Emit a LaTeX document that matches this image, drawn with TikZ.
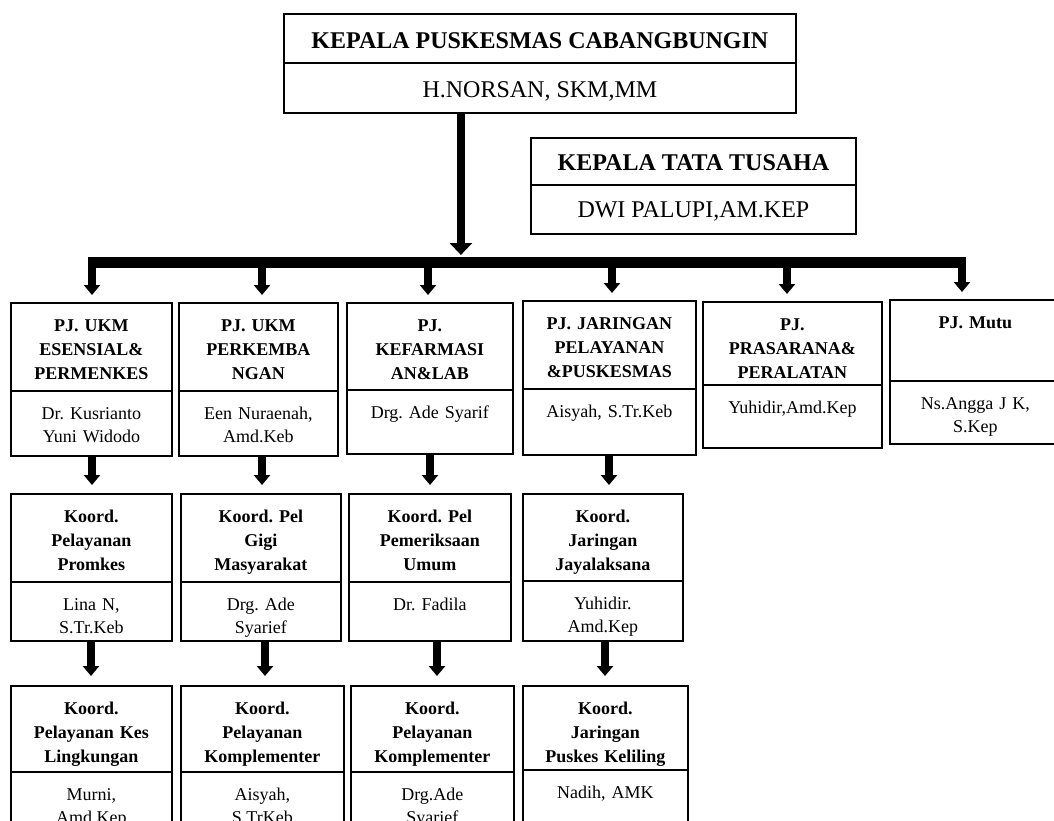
\documentclass[tikz,border=0pt]{standalone}
\usepackage{fontspec}
\setmainfont{Liberation Serif}
\usetikzlibrary{arrows.meta}
\frenchspacing
\tikzset{
  cellbox/.style={draw, rectangle, line width=1.8pt, inner sep=0pt},
  headtext/.style={inner sep=0pt, anchor=base, align=center, font=\frenchspacing\bfseries\fontsize{18}{24}\selectfont},
  nametext/.style={inner sep=0pt, anchor=base, align=center, font=\frenchspacing\fontsize{18}{23.5}\selectfont},
  bigtitle/.style={inner sep=0pt, anchor=base, font=\frenchspacing\bfseries\fontsize{24}{28}\selectfont},
  bigname/.style={inner sep=0pt, anchor=base, font=\frenchspacing\fontsize{24}{28}\selectfont},
  conn/.style={line width=8pt, -{Triangle[width=16pt,length=10pt]}},
  mainconn/.style={line width=8pt, -{Triangle[width=22pt,length=12pt]}},
  busline/.style={line width=11pt},
}
% #1 id, #2 x left, #3 x right, #4 top, #5 divider, #6 bottom, #7 header, #8 names
\newcommand\orgbox[8]{%
  \pgfmathsetmacro\obw{#3-#2}%
  \pgfmathsetmacro\obtw{#3-#2-4}%
  \pgfmathsetmacro\obhh{#5-#4}%
  \pgfmathsetmacro\obnh{#6-#5}%
  \node[cellbox, minimum width=\obw pt, minimum height=\obhh pt, anchor=north west] (#1-h) at (#2,#4) {};
  \node[cellbox, minimum width=\obw pt, minimum height=\obnh pt, anchor=north west] (#1-n) at (#2,#5) {};
  \node[headtext, text width=\obtw pt] (#1-ht) at ([yshift=-29pt]#1-h.north) {#7};
  \node[nametext, text width=\obtw pt] (#1-nt) at ([yshift=-29pt]#1-n.north) {#8};
}
\begin{document}
\begin{tikzpicture}[x=1pt,y=-1pt]
\useasboundingbox (0,0) rectangle (1054,821);
\clip (0,0) rectangle (1054,821);

% Kepala Puskesmas
\node[cellbox, minimum width=512pt, minimum height=49pt, anchor=north west] (kh) at (283,13) {};
\node[cellbox, minimum width=512pt, minimum height=50pt, anchor=north west] (kn) at (283,62) {};
\node[bigtitle] (kht) at ([yshift=-36pt]kh.north) {KEPALA PUSKESMAS CABANGBUNGIN};
\node[bigname] (knt) at ([yshift=-36pt]kn.north) {H.NORSAN, SKM,MM};

% Kepala Tata Usaha
\node[cellbox, minimum width=325pt, minimum height=47pt, anchor=north west] (th) at (530,137) {};
\node[cellbox, minimum width=325pt, minimum height=49pt, anchor=north west] (tn) at (530,184) {};
\node[bigtitle] (tht) at ([yshift=-34pt]th.north) {KEPALA TATA TUSAHA};
\node[bigname] (tnt) at ([yshift=-34pt]tn.north) {DWI PALUPI,AM.KEP};

% Row 1
\orgbox{r1c1}{10}{171}{302}{390}{455}{PJ. UKM\\ESENSIAL\&\\PERMENKES}{Dr. Kusrianto\\Yuni Widodo}
\orgbox{r1c2}{178}{337}{302}{390}{455}{PJ. UKM\\PERKEMBA\\NGAN}{Een Nuraenah,\\Amd.Keb}
\orgbox{r1c3}{346}{512}{302}{389}{453}{PJ.\\KEFARMASI\\AN\&LAB}{Drg. Ade Syarif}
\orgbox{r1c4}{522}{695}{300}{388}{454}{PJ. JARINGAN\\PELAYANAN\\\&PUSKESMAS}{Aisyah, S.Tr.Keb}
\orgbox{r1c5}{702}{881}{301}{384}{447}{PJ.\\PRASARANA\&\\PERALATAN}{Yuhidir,Amd.Kep}
\orgbox{r1c6}{889}{1060}{299}{380}{443}{PJ. Mutu}{Ns.Angga J K,\\S.Kep}

% Row 2
\orgbox{r2c1}{10}{171}{493}{581}{640}{Koord.\\Pelayanan\\Promkes}{Lina N,\\S.Tr.Keb}
\orgbox{r2c2}{180}{340}{493}{581}{640}{Koord. Pel\\Gigi\\Masyarakat}{Drg. Ade\\Syarief}
\orgbox{r2c3}{348}{510}{493}{581}{640}{Koord. Pel\\Pemeriksaan\\Umum}{Dr. Fadila}
\orgbox{r2c4}{522}{682}{493}{580}{640}{Koord.\\Jaringan\\Jayalaksana}{Yuhidir.\\Amd.Kep}

% Row 3
\orgbox{r3c1}{10}{171}{685}{771}{835}{Koord.\\Pelayanan Kes\\Lingkungan}{Murni,\\Amd.Kep}
\orgbox{r3c2}{180}{343}{685}{771}{835}{Koord.\\Pelayanan\\Komplementer}{Aisyah,\\S.TrKeb}
\orgbox{r3c3}{350}{513}{685}{771}{835}{Koord.\\Pelayanan\\Komplementer}{Drg.Ade\\Syarief}
\orgbox{r3c4}{522}{687}{685}{769}{835}{Koord.\\Jaringan\\Puskes Keliling}{Nadih, AMK}

% Bus and connectors
\coordinate (busL) at (88,262);
\coordinate (busR) at (966,262);
\coordinate (mtop) at ([xshift=-79pt]kn.south);
\draw[busline] (busL) -- (busR);
\draw[mainconn, shorten >=7pt] (mtop) -- (mtop |- busL);

\foreach \i/\x in {1/92,2/262,3/428,4/612,5/787,6/962}{
  \coordinate (b\i) at (\x,262);
  \draw[conn, shorten >=7pt] (b\i) -- (b\i |- r1c\i-h.north);
}
\foreach \i/\x in {1/92,2/262,3/430,4/609}{
  \coordinate (p\i) at (\x,0);
  \draw[conn, shorten >=8pt] (p\i |- r1c\i-n.south) -- (p\i |- r2c\i-h.north);
}
\foreach \i/\x in {1/91,2/265,3/437,4/605}{
  \coordinate (q\i) at (\x,0);
  \draw[conn, shorten >=9pt] (q\i |- r2c\i-n.south) -- (q\i |- r3c\i-h.north);
}
\end{tikzpicture}
\end{document}
